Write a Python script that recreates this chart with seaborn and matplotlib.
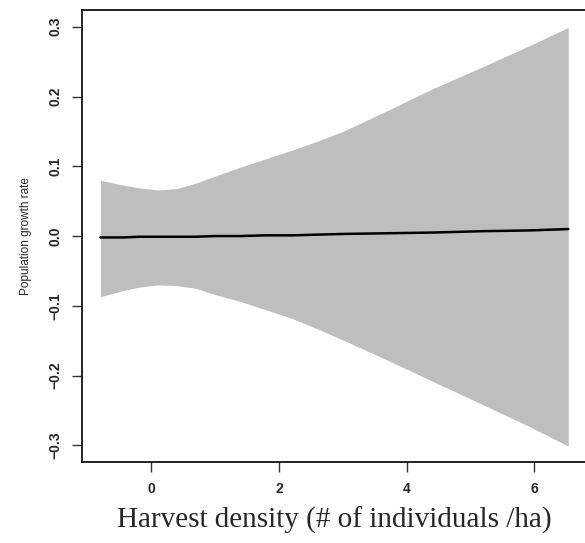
import numpy as np
import pandas as pd
import matplotlib
matplotlib.use("Agg")
import matplotlib.pyplot as plt
import seaborn as sns

# values
harvest = [-0.8, -0.44, -0.18, 0.1, 0.4, 0.7, 1.0, 1.4, 1.8, 2.2, 2.6, 3.0, 3.7, 4.4, 5.2, 5.9, 6.53]
growth = [-0.002, -0.002, -0.001, -0.001, -0.001, -0.001, 0.000, 0.000, 0.001, 0.001, 0.002,
          0.003, 0.004, 0.005, 0.007, 0.008, 0.010]
upper = [0.080, 0.073, 0.069, 0.066, 0.068, 0.076, 0.086, 0.099, 0.111, 0.123, 0.136,
         0.150, 0.180, 0.211, 0.243, 0.272, 0.299]
lower = [-0.087, -0.078, -0.073, -0.070, -0.071, -0.075, -0.084, -0.094, -0.106, -0.118, -0.133,
         -0.149, -0.178, -0.208, -0.242, -0.272, -0.301]

x_ticks = [0, 2, 4, 6]
y_ticks = [-0.3, -0.2, -0.1, 0.0, 0.1, 0.2, 0.3]

df = pd.DataFrame({"harvest": harvest, "growth": growth, "upper": upper, "lower": lower})

sns.set_style("ticks")
plt.rcParams["font.family"] = ["Liberation Sans", "DejaVu Sans"]

fig = plt.figure(figsize=(5.85, 5.43), dpi=100)
ax = fig.add_axes([0.140, 0.149, 0.863, 0.8326])

ax.fill_between(df["harvest"], df["lower"], df["upper"], color="#bebebe", linewidth=0)
sns.lineplot(data=df, x="harvest", y="growth", color="black", linewidth=1.8, ax=ax)

ax.set_xlim(-1.09, 6.82)
ax.set_ylim(-0.324, 0.324)
ax.set_xticks(x_ticks)
ax.set_xticklabels([str(t) for t in x_ticks], fontsize=10, fontweight="bold")
ax.set_yticks(y_ticks)
ax.set_yticklabels([f"{t:.1f}".replace("-", "\u2212") for t in y_ticks],
                   fontsize=10, fontweight="bold", rotation=90, va="center")
ax.tick_params(direction="out", length=7, width=1.0, color="#333333", pad=7)

for sp in ax.spines.values():
    sp.set_visible(True)
    sp.set_color("black")
    sp.set_linewidth(1.2)

ax.set_ylabel("Population growth rate", fontsize=8.5, labelpad=12)
ax.set_xlabel("Harvest density (# of individuals /ha)",
              fontsize=21, family=["Liberation Serif", "DejaVu Serif"], labelpad=8)

fig.savefig("out.png", dpi=100)
